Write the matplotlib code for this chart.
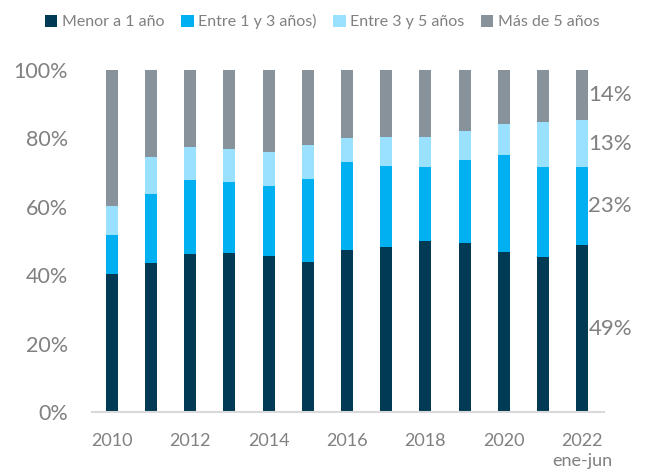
import matplotlib
matplotlib.use("Agg")
import matplotlib.pyplot as plt
import numpy as np

plt.rcParams['font.family'] = ['Lato', 'DejaVu Sans']

years = ['2010', '2011', '2012', '2013', '2014', '2015', '2016',
         '2017', '2018', '2019', '2020', '2021', '2022']
tick_labels = ['2010', '', '2012', '', '2014', '', '2016',
               '', '2018', '', '2020', '', '2022\nene-jun']
series_names = ['Menor a 1 año', 'Entre 1 y 3 años)', 'Entre 3 y 5 años', 'Más de 5 años']

# shares in %
menor_1 = [40.3, 43.7, 46.2, 46.6, 45.7, 43.9, 47.5, 48.3, 50.1, 49.5, 46.9, 45.4, 48.8]
entre_1_3 = [11.5, 20.2, 21.6, 20.6, 20.5, 24.2, 25.6, 23.6, 21.5, 24.1, 28.4, 26.2, 22.8]
entre_3_5 = [8.6, 10.6, 9.8, 9.6, 9.8, 9.9, 7.0, 8.4, 8.9, 8.6, 8.8, 13.3, 13.8]
mas_5 = [39.6, 25.5, 22.4, 23.2, 24.0, 22.0, 19.9, 19.7, 19.5, 17.8, 15.9, 15.1, 14.6]
last_labels = ['49%', '23%', '13%', '14%']

colors = ['#003a54', '#00b0f0', '#99e1ff', '#87929b']
txt = '#808080'

data = np.array([menor_1, entre_1_3, entre_3_5, mas_5])
x = np.arange(len(years))

fig = plt.figure(figsize=(6.51, 4.76), dpi=100)
ax = fig.add_axes([0.141, 0.134, 0.787, 0.719])

bottom = np.zeros(len(years))
for vals, c, name in zip(data, colors, series_names):
    ax.bar(x, vals, 0.31, bottom=bottom, color=c, label=name)
    bottom += vals

# labels for the last bar, at the middle of each segment
mids = np.cumsum(data[:, -1]) - data[:, -1] / 2
for m, lab in zip(mids, last_labels):
    ax.text(x[-1] + 0.16, m, lab, ha='left', va='center', fontsize=16, color=txt)

ax.set_ylim(0, 100)
ax.set_xlim(-0.51, 12.56)
ax.set_yticks(np.arange(0, 101, 20))
ax.set_yticklabels([f'{v}%' for v in range(0, 101, 20)])
ax.set_xticks(x)
ax.set_xticklabels(tick_labels, va='top', ha='center', linespacing=1.3)

ax.tick_params(axis='y', length=0, pad=17, labelsize=15.5, labelcolor=txt)
ax.tick_params(axis='x', length=0, pad=15, labelsize=13, labelcolor=txt)
for s in ['top', 'right', 'left']:
    ax.spines[s].set_visible(False)
ax.spines['bottom'].set_color('#d9d9d9')
ax.spines['bottom'].set_linewidth(1.5)

fig.legend(loc='upper center', bbox_to_anchor=(0.495, 1.0), ncol=4, frameon=False,
           fontsize=11.5, labelcolor=txt, handlelength=0.8, handleheight=0.8,
           handletextpad=0.3, columnspacing=1.0)

plt.savefig('out.png', dpi=100)
